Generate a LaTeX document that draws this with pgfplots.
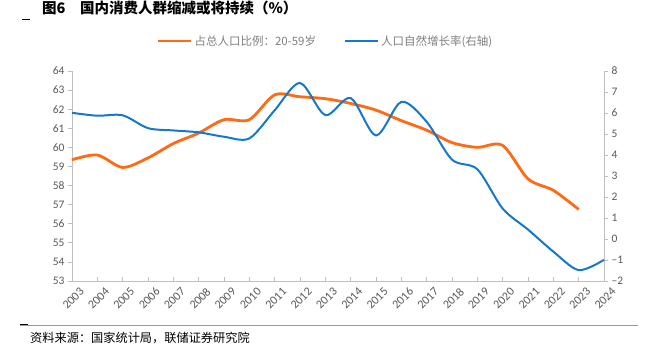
\documentclass[border=0pt]{standalone}
\usepackage{fontspec}
\usepackage{pgfplots}
\pgfplotsset{compat=1.18}
\setmainfont{Carlito}
\newfontfamily\cjk{Noto Sans CJK SC}
\definecolor{myorange}{HTML}{FF6A13}
\definecolor{myblue}{HTML}{1478CD}
\definecolor{axgray}{HTML}{BFBFBF}
\definecolor{txtgray}{HTML}{595959}
\definecolor{leggray}{HTML}{7F7F7F}
\begin{document}
\begin{tikzpicture}[x=1pt,y=1pt]
\useasboundingbox (0,0) rectangle (649,354);
\node[anchor=west, inner sep=0pt, font=\cjk\bfseries\fontsize{14.5}{16}\selectfont] at (42,346) {图6\quad 国内消费人群缩减或将持续（\%）};
\draw[black, line width=0.8pt] (22,335) -- (30,335);
\begin{axis}[at={(72pt,73pt)}, anchor=south west, scale only axis, width=532pt, height=210pt,
  xmin=2003, xmax=2024, ymin=53, ymax=64,
  axis y line*=left, axis x line*=bottom,
  axis line style={-, axgray, line width=0.9pt},
  xtick={2003,...,2024}, ytick={53,...,64},
  tick style={axgray, line width=0.8pt}, major tick length=4pt,
  x tick style={axgray, line width=0.6pt}, xtick align=inside, ytick align=outside,
  /pgf/number format/assume math mode=true,
  /pgf/number format/set thousands separator={},
  ticklabel style={font=\fontsize{11.5}{13}\selectfont, text=txtgray},
  x tick label style={font=\fontsize{12}{13}\selectfont, rotate=45, anchor=north east, inner sep=0pt, xshift=1pt, yshift=-9pt},
  clip=false]
\addplot[myorange, line width=2.8pt, smooth, tension=0.5] coordinates {
(2003,59.35) (2004,59.6) (2005,58.95) (2006,59.45) (2007,60.2) (2008,60.75) (2009,61.45) (2010,61.45) (2011,62.75) (2012,62.65) (2013,62.55) (2014,62.3) (2015,61.95) (2016,61.4) (2017,60.9) (2018,60.25) (2019,60.0) (2020,60.1) (2021,58.35) (2022,57.75) (2023,56.75)};
\end{axis}
\begin{axis}[at={(72pt,73pt)}, anchor=south west, scale only axis, width=532pt, height=210pt,
  xmin=2003, xmax=2024, ymin=-2, ymax=8,
  axis y line*=right, axis x line=none,
  axis line style={-, axgray, line width=0.9pt},
  ytick={-2,...,8}, yticklabels={–2,–1,0,1,2,3,4,5,6,7,8},
  tick style={axgray, line width=0.8pt}, tick align=outside, major tick length=4pt,
  ticklabel style={font=\fontsize{11.5}{13}\selectfont, text=txtgray},
  clip=false,
  legend style={at={(0.4765,1.143)}, anchor=center, draw=none, fill=none, legend columns=2,
    font=\cjk\fontsize{11.5}{13}\selectfont, text=leggray,
    /tikz/every even column/.append style={column sep=26pt}},
  legend image code/.code={\draw[#1] (0pt,0pt) -- (33pt,0pt);}]
\addlegendimage{myorange, line width=2.8pt}
\addlegendentry{占总人口比例：20-59岁}
\addplot[myblue, line width=2pt, smooth, tension=0.5] coordinates {
(2003,6.01) (2004,5.87) (2005,5.89) (2006,5.28) (2007,5.17) (2008,5.08) (2009,4.87) (2010,4.79) (2011,6.13) (2012,7.43) (2013,5.90) (2014,6.71) (2015,4.93) (2016,6.53) (2017,5.58) (2018,3.78) (2019,3.32) (2020,1.45) (2021,0.45) (2022,-0.60) (2023,-1.48) (2024,-0.99)};
\addlegendentry{人口自然增长率(右轴)}
\end{axis}
\draw[axgray!80!black, line width=0.8pt] (20,29) -- (638,29);
\draw[black, line width=1pt] (20,29.5) -- (28,29.5);
\node[anchor=west, inner sep=0pt, font=\cjk\fontsize{12.2}{14}\selectfont] at (30,16) {资料来源：国家统计局，联储证券研究院};
\end{tikzpicture}
\end{document}
